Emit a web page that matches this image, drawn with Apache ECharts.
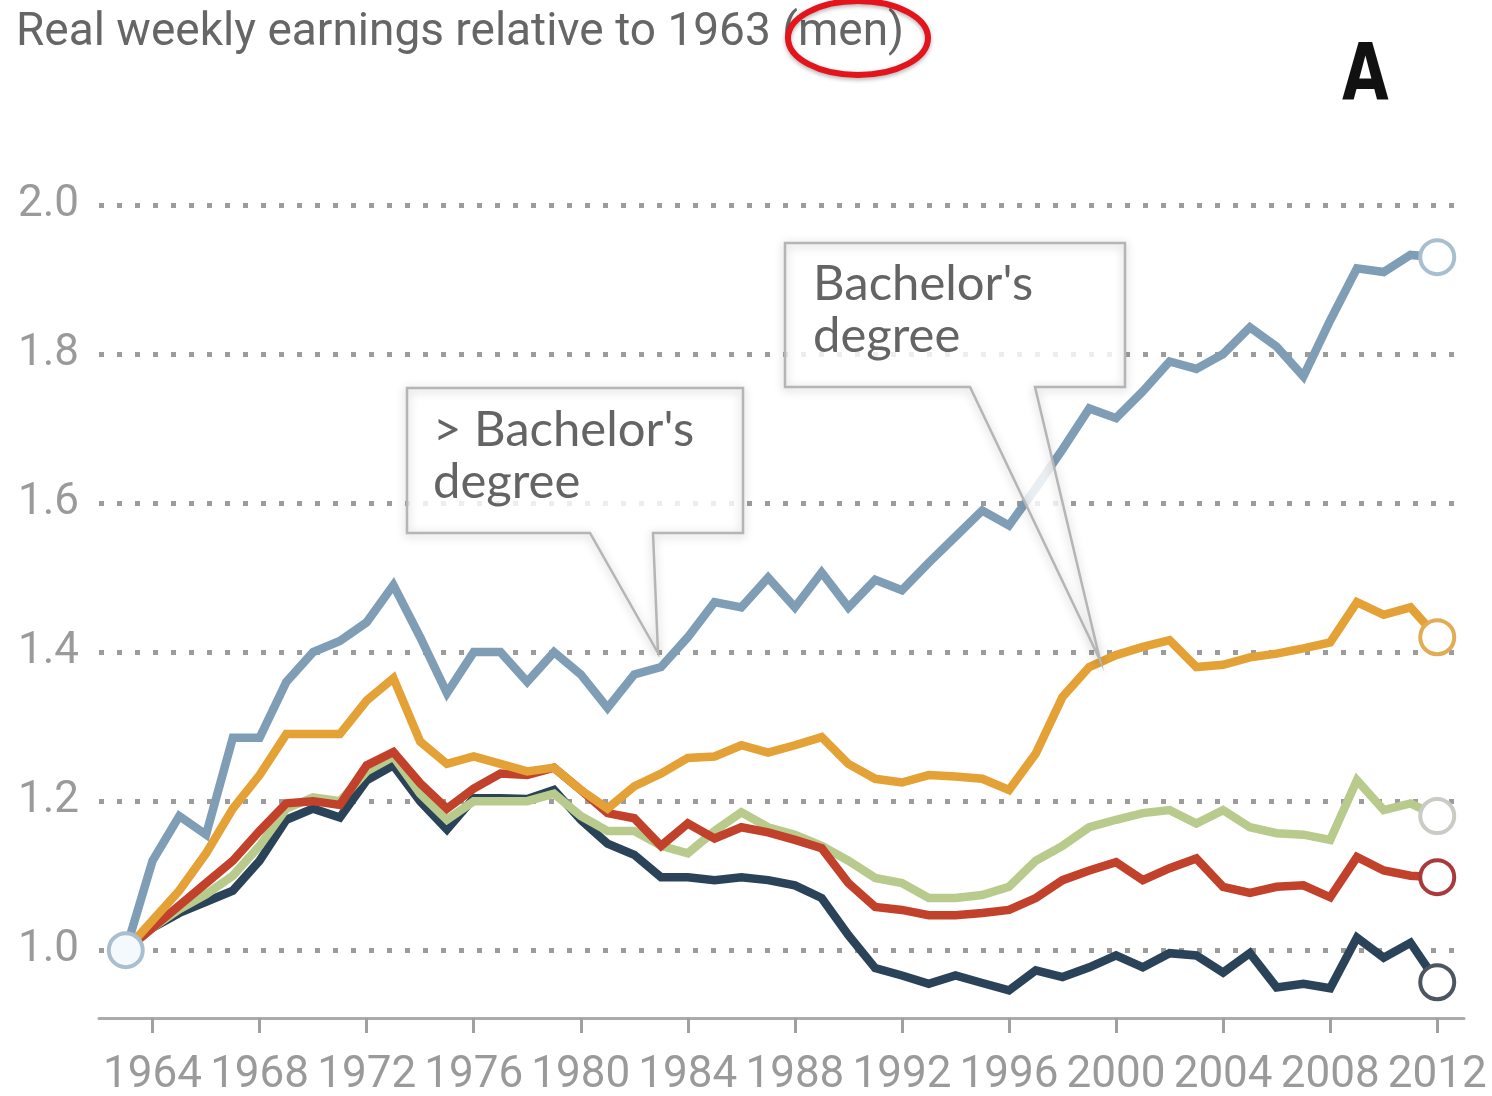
<!DOCTYPE html>
<html>
<head>
<meta charset="utf-8">
<script src="https://cdn.jsdelivr.net/npm/echarts@6/dist/echarts.min.js"></script>
<style>
html,body{margin:0;padding:0;background:#fff;}
#chart{width:1492px;height:1096px;}
</style>
</head>
<body>
<div id="chart"></div>
<script>
// ---------- data ----------
const years = [1963,1964,1965,1966,1967,1968,1969,1970,1971,1972,1973,1974,1975,1976,1977,1978,1979,1980,1981,1982,1983,1984,1985,1986,1987,1988,1989,1990,1991,1992,1993,1994,1995,1996,1997,1998,1999,2000,2001,2002,2003,2004,2005,2006,2007,2008,2009,2010,2011,2012];

const moreThanBachelors = [1.00,1.12,1.18,1.155,1.285,1.285,1.36,1.40,1.415,1.44,1.49,1.42,1.345,1.40,1.40,1.36,1.40,1.37,1.325,1.37,1.38,1.42,1.467,1.46,1.50,1.46,1.507,1.46,1.497,1.483,1.52,1.555,1.59,1.57,1.62,1.672,1.727,1.714,1.75,1.79,1.78,1.80,1.836,1.81,1.77,1.845,1.915,1.91,1.933,1.93];

const bachelors = [1.00,1.04,1.08,1.13,1.19,1.235,1.29,1.29,1.29,1.335,1.365,1.28,1.25,1.26,1.25,1.24,1.245,1.215,1.19,1.22,1.237,1.258,1.26,1.275,1.265,1.275,1.286,1.25,1.23,1.225,1.235,1.233,1.23,1.215,1.264,1.34,1.38,1.396,1.407,1.416,1.38,1.383,1.393,1.398,1.405,1.413,1.467,1.45,1.46,1.42];

const someCollege = [1.00,1.03,1.055,1.075,1.10,1.14,1.19,1.205,1.20,1.24,1.26,1.21,1.175,1.20,1.20,1.20,1.21,1.18,1.16,1.16,1.14,1.13,1.16,1.185,1.165,1.155,1.14,1.12,1.097,1.09,1.07,1.07,1.074,1.085,1.12,1.14,1.165,1.175,1.184,1.188,1.17,1.188,1.165,1.157,1.155,1.148,1.228,1.188,1.197,1.18];

const highSchool = [1.00,1.03,1.06,1.09,1.12,1.16,1.197,1.20,1.195,1.248,1.266,1.224,1.19,1.217,1.237,1.235,1.245,1.215,1.184,1.177,1.14,1.17,1.15,1.165,1.158,1.148,1.137,1.09,1.058,1.054,1.047,1.047,1.05,1.054,1.07,1.094,1.107,1.118,1.094,1.11,1.123,1.085,1.077,1.085,1.087,1.071,1.125,1.107,1.10,1.098];

const dropout = [1.00,1.03,1.05,1.065,1.08,1.12,1.175,1.19,1.178,1.228,1.248,1.20,1.162,1.204,1.204,1.203,1.215,1.175,1.143,1.128,1.098,1.098,1.094,1.098,1.094,1.087,1.07,1.02,0.976,0.966,0.955,0.966,0.956,0.946,0.973,0.964,0.977,0.993,0.977,0.996,0.993,0.97,0.996,0.95,0.955,0.949,1.017,0.99,1.01,0.957];

const xTicks = [1964,1968,1972,1976,1980,1984,1988,1992,1996,2000,2004,2008,2012];
const yTicks = [1.0,1.2,1.4,1.6,1.8,2.0];

const titleText = 'Real weekly earnings relative to 1963 (men)';
const panelLetter = 'A';
const note1 = "> Bachelor's\ndegree";
const note2 = "Bachelor's\ndegree";

// ---------- build ----------
function pairs(arr){ return years.map((y,i)=>[y,arr[i]]); }
function last(arr){ return [[years[years.length-1], arr[arr.length-1]]]; }

const seriesDefs = [
  {name:'< High school', data:dropout, color:'#2b4358', ring:'#4c5560'},
  {name:'Some college', data:someCollege, color:'#b8cb8c', ring:'#c8ccc4'},
  {name:'High school', data:highSchool, color:'#c2412b', ring:'#a9393a'},
  {name:"Bachelor's degree", data:bachelors, color:'#e3a136', ring:'#e2ab55'},
  {name:"> Bachelor's degree", data:moreThanBachelors, color:'#7f9eb6', ring:'#a8bfcf'}
];

const series = [];
seriesDefs.forEach((d,k)=>{
  series.push({
    name:d.name, type:'line', data:pairs(d.data), showSymbol:false,
    lineStyle:{color:d.color, width:8.5, join:'miter'}, z:2+k, silent:true
  });
});
seriesDefs.forEach((d)=>{
  series.push({
    type:'scatter', data:last(d.data), symbol:'circle', symbolSize:34,
    itemStyle:{color:'#ffffff', opacity:1, borderColor:d.ring, borderWidth:4}, z:10, silent:true
  });
});
series.push({
  type:'scatter', data:[[years[0], moreThanBachelors[0]]], symbol:'circle', symbolSize:34,
  itemStyle:{color:'#f4f9fd', opacity:1, borderColor:'#a9bfd0', borderWidth:4}, z:11, silent:true
});

const box1 = [[407,388],[743,388],[743,533],[653,533],[658,653],[590,533],[407,533]];
const box2 = [[785,243],[1125,243],[1125,387],[1035,387],[1100,660],[970,387],[785,387]];
const fillStyle = {fill:'rgba(255,255,255,0.82)', stroke:null};
const edgeStyle = {fill:null, stroke:'#b5b5b5', lineWidth:2.5,
  shadowBlur:10, shadowColor:'rgba(0,0,0,0.25)', shadowOffsetY:2};

const chart = echarts.init(document.getElementById('chart'));
chart.setOption({
  backgroundColor:'#ffffff',
  animation:false,
  title:{
    text:titleText, left:11, top:5,
    textStyle:{fontFamily:'Roboto', fontSize:46, fontWeight:'normal', color:'#666'}
  },
  grid:{left:99, right:28, top:205, bottom:78, containLabel:false, outerBoundsMode:'none'},
  xAxis:{
    type:'value', min:1962, max:2013,
    axisLine:{show:true, lineStyle:{color:'#ababab', width:3}},
    axisTick:{show:true, customValues:xTicks, length:15, lineStyle:{color:'#a0a0a0', width:3}},
    axisLabel:{customValues:xTicks, fontFamily:'Roboto', fontSize:44, color:'#9a9a9a', margin:36,
               formatter:v=>String(v)},
    splitLine:{show:false}
  },
  yAxis:{
    type:'value', min:0.909, max:2.0,
    axisLine:{show:false},
    axisTick:{show:false, customValues:yTicks},
    axisLabel:{customValues:yTicks, fontFamily:'Roboto', fontSize:44, color:'#9a9a9a', margin:20,
               padding:[16,0,0,0], formatter:v=>v.toFixed(1)},
    splitLine:{show:true, lineStyle:{color:'#9c9c9c', width:5, type:[5,13]}}
  },
  series:series,
  graphic:[
    {type:'ellipse', shape:{cx:858, cy:38, rx:70, ry:37}, z:100,
     style:{fill:'none', stroke:'#e3141b', lineWidth:6, shadowBlur:4, shadowColor:'rgba(0,0,0,0.3)', shadowOffsetY:2}},
    {type:'text', x:1342, y:40, z:100, scaleX:0.86,
     style:{text:panelLetter, font:'bold 78px "DejaVu Sans Condensed"', fill:'#111'}},
    {type:'polygon', z:50, shape:{points:box1}, style:fillStyle},
    {type:'polygon', z:51, shape:{points:box1}, style:edgeStyle},
    {type:'text', x:433, y:404, z:52,
     style:{text:note1, font:'49px Lato', fill:'#646464', lineHeight:52}},
    {type:'polygon', z:50, shape:{points:box2}, style:fillStyle},
    {type:'polygon', z:51, shape:{points:box2}, style:edgeStyle},
    {type:'text', x:813, y:258, z:52,
     style:{text:note2, font:'49px Lato', fill:'#646464', lineHeight:52}}
  ]
});
</script>
</body>
</html>
